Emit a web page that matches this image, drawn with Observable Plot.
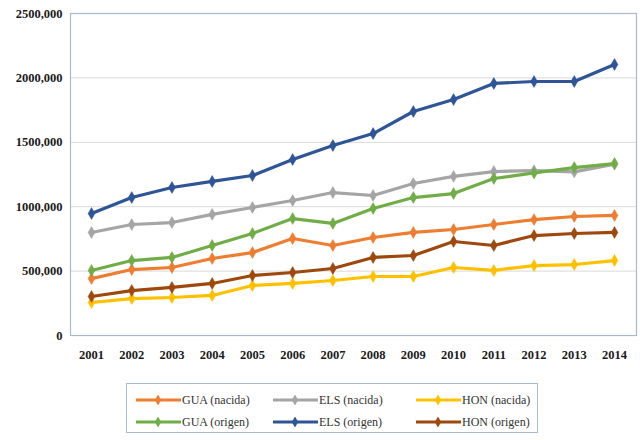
<!DOCTYPE html>
<html>
<head>
<meta charset="utf-8">
<script src="https://cdn.jsdelivr.net/npm/d3@7"></script>
<script src="https://cdn.jsdelivr.net/npm/@observablehq/plot@0.6"></script>
<style>
  html, body { margin: 0; padding: 0; background: #fff; }
  #chart { width: 640px; }
  .legend { position: relative; margin-left: 126px; width: 412px; height: 50px; border: 1px solid #a9b8cf; box-sizing: border-box; margin-top: 11px;
    font-family: "Liberation Serif", "Times New Roman", serif; font-size: 12px; color: #333; }
  .item { position: absolute; display: flex; align-items: center; height: 16px; }
  .item svg { margin-right: 1px; }
</style>
</head>
<body>
<div id="chart"></div>
<script>
const years = [2001,2002,2003,2004,2005,2006,2007,2008,2009,2010,2011,2012,2013,2014];
const seriesNames = ["GUA (nacida)","ELS (nacida)","HON (nacida)","GUA (origen)","ELS (origen)","HON (origen)"];
const seriesColors = ["#ED7D31","#A5A5A5","#FFC000","#70AD47","#2F5597","#9E480E"];
const guaNacida = [442000,512000,528000,598000,644000,753000,699000,761000,800000,823000,862000,900000,924000,932000];
const elsNacida = [800000,862000,877000,940000,994000,1048000,1110000,1087000,1180000,1235000,1273000,1280000,1270000,1330000];
const honNacida = [256000,287000,295000,311000,388000,404000,427000,458000,458000,528000,505000,543000,551000,582000];
const guaOrigen = [505000,582000,606000,699000,792000,908000,870000,986000,1071000,1102000,1219000,1262000,1304000,1335000];
const elsOrigen = [947000,1071000,1149000,1196000,1242000,1366000,1475000,1568000,1739000,1832000,1957000,1972000,1972000,2104000];
const honOrigen = [303000,349000,373000,404000,466000,489000,520000,606000,621000,730000,699000,776000,792000,800000];
const yTicks = [0,500000,1000000,1500000,2000000,2500000];

const seriesValues = [guaNacida, elsNacida, honNacida, guaOrigen, elsOrigen, honOrigen];
const data = [];
seriesNames.forEach((name, i) => {
  years.forEach((yr, j) => data.push({series: name, year: yr, value: seriesValues[i][j]}));
});
const fmtY = d => d === 0 ? "0" : (d / 1000) + ",000";

const chart = Plot.plot({
  width: 640,
  height: 372,
  marginLeft: 70,
  marginRight: 4,
  marginTop: 13,
  marginBottom: 37,
  insetLeft: 21,
  insetRight: 22,
  style: { fontSize: "12px", color: "#222", background: "#fff" },
  x: { domain: [2001, 2014], label: null },
  y: { domain: [0, 2500000], label: null },
  color: { domain: seriesNames, range: seriesColors },
  marks: [
    Plot.gridY(yTicks, { stroke: "#d9d9d9", strokeOpacity: 1, strokeWidth: 1 }),
    Plot.frame({ stroke: "#aab8cc", strokeWidth: 1.2 }),
    Plot.axisX({ ticks: years, tickFormat: d => String(d), tickSize: 0, tickPadding: 15, fill: "#1a1a1a", label: null }),
    Plot.axisY({ ticks: yTicks, tickFormat: fmtY, tickSize: 0, tickPadding: 8, fill: "#1a1a1a", label: null }),
    Plot.line(data, { x: "year", y: "value", z: "series", stroke: "series", strokeWidth: 3.2 }),
    Plot.dot(data, { x: "year", y: "value", fill: "series", stroke: "series", symbol: "diamond", r: 3.6, strokeWidth: 0.5 })
  ]
});
d3.select(chart).selectAll("g[aria-label^='x-axis'], g[aria-label^='y-axis'], text")
  .attr("font-family", "Liberation Serif, DejaVu Serif, serif")
  .attr("font-variant", "normal")
  .style("font-family", "Liberation Serif, DejaVu Serif, serif")
  .style("font-variant", "normal")
  .style("font-variant-numeric", "normal")
  .style("font-weight", "bold")
  .style("font-size", "12.5px");
document.getElementById("chart").appendChild(chart);

const legend = document.createElement("div");
legend.className = "legend";
const colX = [9, 146, 289];
const rowY = [8, 30];
seriesNames.forEach((name, i) => {
  const col = i % 3, row = Math.floor(i / 3);
  const item = document.createElement("div");
  item.className = "item";
  item.style.left = colX[col] + "px";
  item.style.top = rowY[row] + "px";
  const c = seriesColors[i];
  item.innerHTML = `<svg width="45" height="10"><line x1="0" y1="5" x2="45" y2="5" stroke="${c}" stroke-width="3.2"/><path d="${d3.symbol(d3.symbolDiamond, 35)()}" transform="translate(22,5)" fill="${c}"/></svg><span>${name}</span>`;
  legend.appendChild(item);
});
document.body.appendChild(legend);
</script>
</body>
</html>
